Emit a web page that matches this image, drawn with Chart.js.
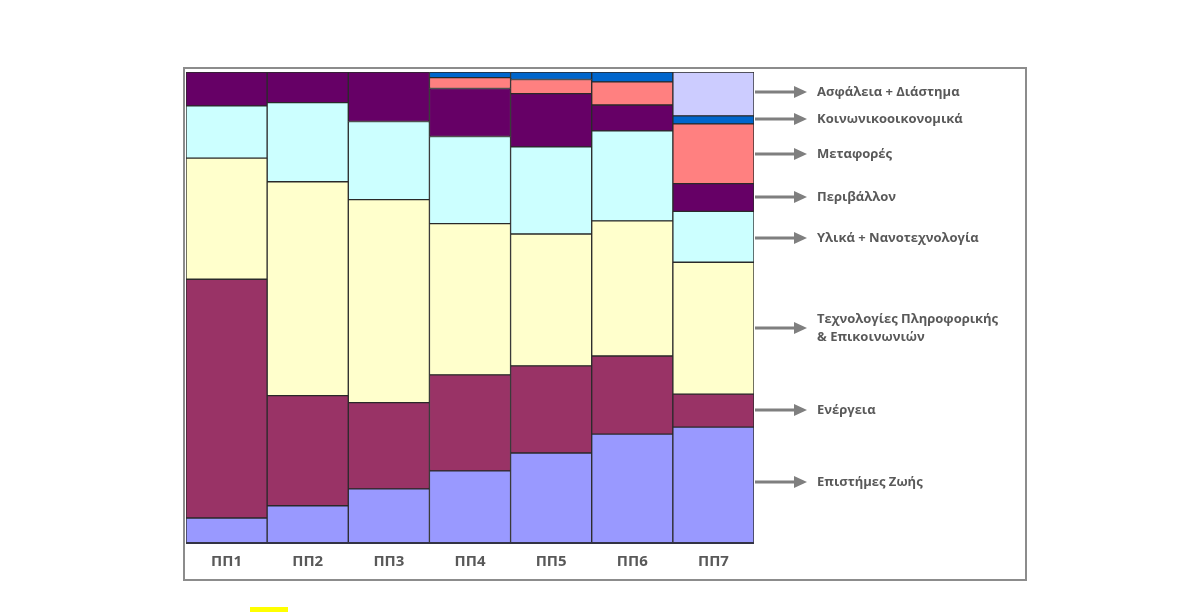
<!DOCTYPE html>
<html>
<head>
<meta charset="utf-8">
<script src="https://cdn.jsdelivr.net/npm/chart.js@4.4.1/dist/chart.umd.min.js"></script>
<style>
  html, body { margin: 0; padding: 0; background: #fff; }
  #wrap { width: 1202px; height: 612px; position: relative; }
</style>
</head>
<body>
<div id="wrap"><canvas id="mekkoChart" width="1202" height="612"></canvas></div>
<script>
  const categories = ['ΠΠ1', 'ΠΠ2', 'ΠΠ3', 'ΠΠ4', 'ΠΠ5', 'ΠΠ6', 'ΠΠ7'];

  // shares per programme (%), bottom to top
  const lifeSciences = [5.3, 7.9, 11.5, 15.3, 19.1, 23.1, 24.6];
  const energy       = [50.7, 23.4, 18.3, 20.4, 18.5, 16.6, 7.0];
  const ict          = [25.7, 45.4, 43.1, 32.1, 28.0, 28.7, 28.0];
  const materials    = [11.1, 16.8, 16.6, 18.5, 18.5, 19.1, 10.8];
  const environment  = [7.2, 6.5, 10.5, 10.2, 11.3, 5.5, 5.9];
  const transport    = [0, 0, 0, 2.3, 3.0, 4.9, 12.7];
  const socioEconomy = [0, 0, 0, 1.2, 1.6, 2.1, 1.7];
  const securitySpace = [0, 0, 0, 0, 0, 0, 9.3];

  const seriesNames = ['Επιστήμες Ζωής', 'Ενέργεια', 'Τεχνολογίες Πληροφορικής & Επικοινωνιών',
    'Υλικά + Νανοτεχνολογία', 'Περιβάλλον', 'Μεταφορές', 'Κοινωνικοοικονομικά', 'Ασφάλεια + Διάστημα'];
  const seriesValues = [lifeSciences, energy, ict, materials, environment, transport, socioEconomy, securitySpace];
  const seriesColors = ['#9999ff', '#993366', '#ffffcc', '#ccffff', '#660066', '#ff8080', '#0066cc', '#ccccff'];

  // right-hand callouts: text lines and arrow y
  const callouts = [
    { lines: ['Ασφάλεια + Διάστημα'], y: 92 },
    { lines: ['Κοινωνικοοικονομικά'], y: 119 },
    { lines: ['Μεταφορές'], y: 154 },
    { lines: ['Περιβάλλον'], y: 197 },
    { lines: ['Υλικά + Νανοτεχνολογία'], y: 238 },
    { lines: ['Τεχνολογίες Πληροφορικής', '& Επικοινωνιών'], y: 328 },
    { lines: ['Ενέργεια'], y: 410 },
    { lines: ['Επιστήμες Ζωής'], y: 482 }
  ];

  const decorations = {
    id: 'decorations',
    beforeDraw(chart) {
      const c = chart.ctx;
      c.save();
      c.fillStyle = '#fff';
      c.fillRect(0, 0, chart.width, chart.height);
      c.strokeStyle = '#8c8c8c';
      c.lineWidth = 2;
      c.strokeRect(184, 68, 842, 512);
      c.fillStyle = '#ffff00';
      c.fillRect(250, 607, 38, 5);
      c.restore();
    },
    afterDraw(chart) {
      const c = chart.ctx;
      c.save();
      c.strokeStyle = '#7f7f7f';
      c.fillStyle = '#7f7f7f';
      c.lineWidth = 3;
      callouts.forEach(item => {
        c.beginPath();
        c.moveTo(755, item.y);
        c.lineTo(796, item.y);
        c.stroke();
        c.beginPath();
        c.moveTo(807, item.y);
        c.lineTo(794, item.y - 6);
        c.lineTo(794, item.y + 6);
        c.closePath();
        c.fill();
      });
      c.fillStyle = '#595959';
      c.font = 'bold 13px "Open Sans"';
      c.textBaseline = 'middle';
      callouts.forEach(item => {
        const top = item.y - (item.lines.length - 1) * 9;
        item.lines.forEach((line, i) => c.fillText(line, 817, top + i * 18));
      });
      // baseline of the plot
      const a = chart.chartArea;
      c.strokeStyle = '#333344';
      c.lineWidth = 2;
      c.beginPath();
      c.moveTo(a.left, a.bottom);
      c.lineTo(a.right, a.bottom);
      c.stroke();
      c.restore();
    }
  };

  new Chart(document.getElementById('mekkoChart').getContext('2d'), {
    type: 'bar',
    data: {
      labels: categories,
      datasets: seriesValues.map((vals, i) => ({
        label: seriesNames[i],
        data: vals,
        backgroundColor: seriesColors[i],
        borderColor: '#2a2a2a',
        borderWidth: 1,
        borderSkipped: false,
        categoryPercentage: 1,
        barPercentage: 1
      }))
    },
    options: {
      responsive: false,
      animation: false,
      devicePixelRatio: 1,
      layout: { padding: { left: 186, top: 72, right: 448, bottom: 0 } },
      scales: {
        x: {
          stacked: true,
          grid: { display: false, drawTicks: false },
          border: { display: false },
          ticks: {
            color: '#595959',
            font: { family: '"Open Sans"', size: 15, weight: 'bold' },
            padding: 10,
            maxRotation: 0
          },
          afterFit(scale) { scale.height = 69; }
        },
        y: {
          stacked: true,
          display: false,
          min: 0,
          max: 100
        }
      },
      plugins: {
        legend: { display: false },
        tooltip: { enabled: false }
      }
    },
    plugins: [decorations]
  });
</script>
</body>
</html>
